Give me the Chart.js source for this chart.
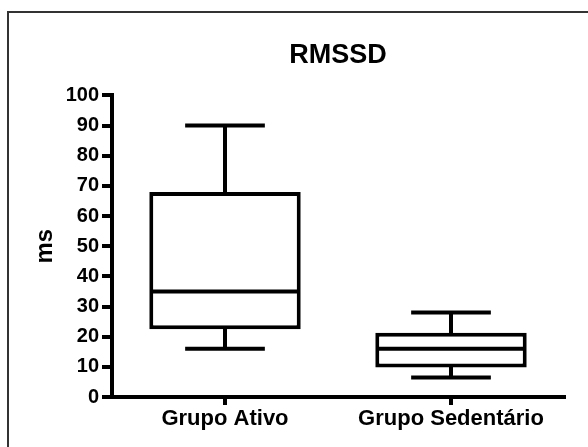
<!DOCTYPE html>
<html>
<head>
<meta charset="utf-8">
<script src="https://cdn.jsdelivr.net/npm/chart.js@4/dist/chart.umd.min.js"></script>
<style>
  html, body { margin: 0; padding: 0; background: #fff; }
  #wrap { position: relative; width: 588px; height: 447px; overflow: hidden; }
  #frame {
    position: absolute; left: 7px; top: 11px; width: 600px; height: 460px;
    border-left: 2px solid #333; border-top: 2px solid #333;
    pointer-events: none;
  }
  canvas { position: absolute; left: 0; top: 0; }
</style>
</head>
<body>
<div id="wrap">
  <canvas id="chart" width="588" height="447"></canvas>
  <div id="frame"></div>
</div>
<script>
const categories = ["Grupo Ativo", "Grupo Sedentário"];
const minValues = [16, 6.5];
const q1Values = [22.5, 9.8];
const medianValues = [35, 16];
const q3Values = [68, 21.3];
const maxValues = [90, 28];
const yTicks = [0, 10, 20, 30, 40, 50, 60, 70, 80, 90, 100];

const FONT = '"Liberation Sans", Arial, sans-serif';

// median, whiskers and caps drawn on top of the floating bars
const whiskerPlugin = {
  id: "whiskers",
  afterDatasetsDraw(chart) {
    const { ctx, scales: { x, y } } = chart;
    const bars = chart.getDatasetMeta(0).data;
    ctx.save();
    ctx.strokeStyle = "#000";
    ctx.lineWidth = 4;
    categories.forEach((_, i) => {
      const cx = x.getPixelForValue(i);
      const half = bars[i].width / 2;
      const cap = half / 2;
      const yMin = y.getPixelForValue(minValues[i]);
      const yQ1 = y.getPixelForValue(q1Values[i]);
      const yMed = y.getPixelForValue(medianValues[i]);
      const yQ3 = y.getPixelForValue(q3Values[i]);
      const yMax = y.getPixelForValue(maxValues[i]);
      ctx.lineCap = "square";
      ctx.beginPath();
      ctx.moveTo(cx, yQ3); ctx.lineTo(cx, yMax);
      ctx.moveTo(cx - cap, yMax); ctx.lineTo(cx + cap, yMax);
      ctx.moveTo(cx, yQ1); ctx.lineTo(cx, yMin);
      ctx.moveTo(cx - cap, yMin); ctx.lineTo(cx + cap, yMin);
      ctx.stroke();
      ctx.lineCap = "butt";
      ctx.beginPath();
      ctx.moveTo(cx - half + 2, yMed); ctx.lineTo(cx + half - 2, yMed);
      ctx.stroke();
    });
    ctx.restore();
  },
};

new Chart(document.getElementById("chart"), {
  type: "bar",
  data: {
    labels: categories,
    datasets: [{
      data: categories.map((_, i) => [q1Values[i], q3Values[i]]),
      backgroundColor: "#fff",
      borderColor: "#000",
      borderWidth: 4,
      borderSkipped: false,
      categoryPercentage: 1,
      barPercentage: 0.67,
    }],
  },
  options: {
    responsive: false,
    animation: false,
    layout: { padding: { left: 0, right: 24, top: 0, bottom: 0 } },
    plugins: {
      legend: { display: false },
      tooltip: { enabled: false },
      title: {
        display: true,
        text: "RMSSD",
        fullSize: false,
        color: "#000",
        font: { family: FONT, size: 27, weight: "bold" },
        padding: { top: 39, bottom: 24 },
      },
    },
    scales: {
      x: {
        offset: true,
        afterFit(scale) { scale.height = 50; },
        border: { display: true, color: "#000", width: 4 },
        grid: {
          offset: false,
          drawOnChartArea: false,
          drawTicks: true,
          tickLength: 8,
          lineWidth: 4,
          color: "#000",
        },
        ticks: {
          color: "#000",
          padding: 1,
          maxRotation: 0,
          font: { family: FONT, size: 22, weight: "bold" },
        },
      },
      y: {
        min: 0,
        max: 100,
        afterFit(scale) { scale.width = 112; },
        afterBuildTicks(scale) { scale.ticks = yTicks.map((v) => ({ value: v })); },
        border: { display: true, color: "#000", width: 4 },
        grid: {
          drawOnChartArea: false,
          drawTicks: true,
          tickLength: 10,
          lineWidth: 4,
          color: "#000",
        },
        ticks: {
          color: "#000",
          padding: 3,
          font: { family: FONT, size: 20, weight: "bold" },
        },
        title: {
          display: true,
          text: "ms",
          color: "#000",
          font: { family: FONT, size: 24, weight: "bold" },
          padding: { top: 31, bottom: 0 },
        },
      },
    },
  },
  plugins: [whiskerPlugin],
});
</script>
</body>
</html>
